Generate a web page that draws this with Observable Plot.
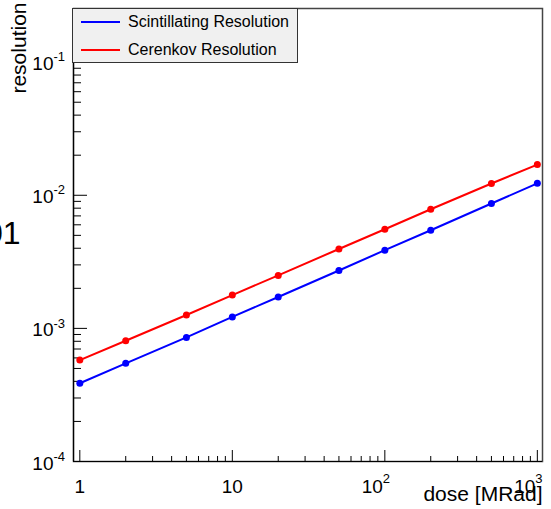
<!DOCTYPE html>
<html><head><meta charset="utf-8">
<script src="https://cdn.jsdelivr.net/npm/d3@7"></script>
<script src="https://cdn.jsdelivr.net/npm/@observablehq/plot@0.6"></script>
<style>
body{margin:0;background:#fff;font-family:"Liberation Sans",Arial,Helvetica,sans-serif}
#wrap{position:relative;width:551px;height:509px;overflow:hidden}
#legend{position:absolute;left:72px;top:8px;width:224px;height:53px;background:#f0f0f0;border:1px solid #333;font-size:16px;color:#000}
.item{position:absolute;left:0;height:20px;line-height:20px;white-space:nowrap}
.swatch{position:absolute;left:8px;top:9px;width:39px;height:2px}
.lab{position:absolute;left:55px;top:0}
</style></head><body><div id="wrap"></div>
<script>
// data
const doses = [1, 2, 5, 10, 20, 50, 100, 200, 500, 1000];
const scintillating = [3.87e-4, 5.46e-4, 8.56e-4, 1.22e-3, 1.72e-3, 2.72e-3, 3.87e-3, 5.46e-3, 8.67e-3, 1.23e-2];
const cerenkov = [5.78e-4, 8.07e-4, 1.26e-3, 1.78e-3, 2.5e-3, 3.95e-3, 5.56e-3, 7.85e-3, 1.225e-2, 1.70e-2];
const seriesNames = ["Scintillating Resolution", "Cerenkov Resolution"];
const seriesColors = ["#0000ff", "#ff0000"];
const xMajor = [1, 10, 100, 1000];
const xTickBase = ["1", "10", "10", "10"];
const xTickExp = ["", "", "2", "3"];
const yMajor = [1e-4, 1e-3, 1e-2, 1e-1];
const yTickExp = ["-4", "-3", "-2", "-1"];
const xTitle = "dose [MRad]";
const yTitle = "resolution";
const strayText = "01";

const xDomain = [0.909, 1081];
const yDomain = [1e-4, 0.253];

const xMinor = [];
[1, 10, 100].forEach(d => { for (let k = 2; k <= 9; k++) xMinor.push(d * k); });
const yMinor = [];
[1e-4, 1e-3, 1e-2, 1e-1].forEach(d => { for (let k = 2; k <= 9; k++) if (d * k <= yDomain[1]) yMinor.push(d * k); });

const rows = [];
doses.forEach((d, i) => {
  rows.push({dose: d, res: scintillating[i], s: seriesNames[0]});
  rows.push({dose: d, res: cerenkov[i], s: seriesNames[1]});
});
const xl = xMajor.map((v, i) => ({v, base: xTickBase[i], exp: xTickExp[i]}));
const yl = yMajor.map((v, i) => ({v, exp: yTickExp[i]}));

const font = "Liberation Sans, Arial, Helvetica, sans-serif";

const chart = Plot.plot({
  width: 551, height: 509,
  marginLeft: 73, marginRight: 9, marginTop: 8, marginBottom: 48,
  style: {fontFamily: font, background: "white", overflow: "visible"},
  x: {type: "log", domain: xDomain},
  y: {type: "log", domain: yDomain},
  color: {domain: seriesNames, range: seriesColors},
  marks: [
    Plot.frame({stroke: "#444", strokeWidth: 1.5}),
    Plot.ruleY([yDomain[0]], {stroke: "black", strokeWidth: 1.2}),
    Plot.ruleX([xDomain[0]], {stroke: "black", strokeWidth: 1.2}),
    Plot.axisX(xMajor, {anchor: "top", frameAnchor: "bottom", tickSize: 12, tickFormat: () => "", label: null, stroke: "black"}),
    Plot.axisX(xMinor, {anchor: "top", frameAnchor: "bottom", tickSize: 6, tickFormat: () => "", label: null, stroke: "black"}),
    Plot.axisY(yMajor, {anchor: "right", frameAnchor: "left", tickSize: 13, tickFormat: () => "", label: null, stroke: "black"}),
    Plot.axisY(yMinor, {anchor: "right", frameAnchor: "left", tickSize: 7, tickFormat: () => "", label: null, stroke: "black"}),
    // x tick labels
    Plot.text(xl.filter(d => d.exp === ""), {x: "v", frameAnchor: "bottom", text: "base", dy: 25, fontSize: 19, fill: "black", lineAnchor: "middle"}),
    Plot.text(xl.filter(d => d.exp !== ""), {x: "v", frameAnchor: "bottom", text: "base", textAnchor: "end", dx: -2, dy: 25, fontSize: 19, fill: "black", lineAnchor: "middle"}),
    Plot.text(xl.filter(d => d.exp !== ""), {x: "v", frameAnchor: "bottom", text: "exp", textAnchor: "start", dx: -2, dy: 17, fontSize: 13, fill: "black", lineAnchor: "middle"}),
    // y tick labels
    Plot.text(yl, {y: "v", frameAnchor: "left", text: () => "10", textAnchor: "end", dx: -20, dy: 2, fontSize: 19, fill: "black", lineAnchor: "middle"}),
    Plot.text(yl, {y: "v", frameAnchor: "left", text: "exp", textAnchor: "start", dx: -20, dy: -5, fontSize: 13, fill: "black", lineAnchor: "middle"}),
    // titles
    Plot.text([xTitle], {frameAnchor: "bottom-right", textAnchor: "end", dy: 33, fontSize: 21, fill: "black", lineAnchor: "middle"}),
    Plot.text([yTitle], {frameAnchor: "top-left", textAnchor: "end", rotate: -90, dx: -54, dy: -6, fontSize: 21, fill: "black", lineAnchor: "middle"}),
    Plot.text([strayText], {frameAnchor: "left", textAnchor: "end", dx: -53, dy: -1, fontSize: 32, fill: "black", lineAnchor: "middle"}),
    // data
    Plot.line(rows, {x: "dose", y: "res", stroke: "s", z: "s", strokeWidth: 2}),
    Plot.dot(rows, {x: "dose", y: "res", fill: "s", r: 3.5})
  ]
});
const wrap = document.getElementById("wrap");
wrap.appendChild(chart);

const legend = document.createElement("div");
legend.id = "legend";
seriesNames.forEach((n, i) => {
  const it = document.createElement("div");
  it.className = "item";
  it.style.top = (3 + i * 28) + "px";
  it.style.width = "100%";
  const sw = document.createElement("div");
  sw.className = "swatch";
  sw.style.background = seriesColors[i];
  const lb = document.createElement("div");
  lb.className = "lab";
  lb.textContent = n;
  it.appendChild(sw); it.appendChild(lb);
  legend.appendChild(it);
});
wrap.appendChild(legend);
</script></body></html>
